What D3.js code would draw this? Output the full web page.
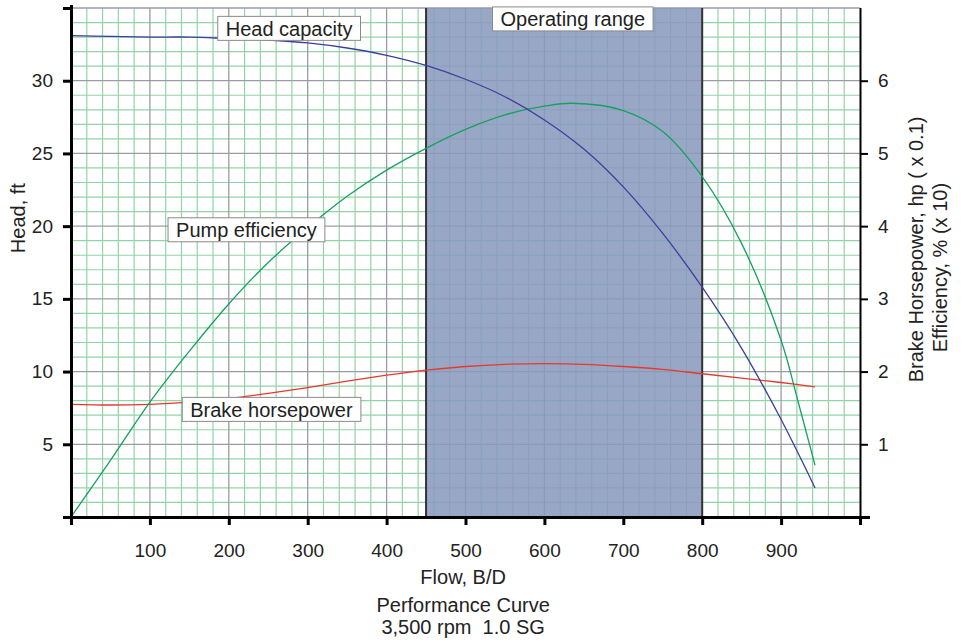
<!DOCTYPE html>
<html>
<head>
<meta charset="utf-8">
<script src="https://cdn.jsdelivr.net/npm/d3@7"></script>
<style>
  body { margin: 0; background: #fff; }
  svg text { font-family: "Liberation Sans", Arial, sans-serif; fill: #222; }
</style>
</head>
<body>
<div id="chart"></div>
<script>
// Pump performance curve, 3,500 rpm 1.0 SG

// flow, B/D
const flow = [0, 50, 100, 150, 200, 250, 300, 350, 400, 450, 500, 550, 600, 650, 700, 750, 800, 850, 900, 943];
// head, ft (left axis)
const head = [33.1, 33.05, 33.0, 33.0, 32.9, 32.8, 32.6, 32.25, 31.75, 31.05, 30.1, 28.9, 27.3, 25.3, 22.7, 19.5, 15.8, 11.6, 6.7, 2.0];
// efficiency, % x 10 (right axis)
const effFlow = [0, 50, 100, 150, 200, 250, 300, 350, 400, 450, 500, 550, 600, 635, 700, 750, 800, 850, 900, 920, 943];
const efficiency = [0, 0.78, 1.58, 2.28, 2.93, 3.5, 3.98, 4.41, 4.77, 5.07, 5.33, 5.53, 5.65, 5.69, 5.59, 5.3, 4.68, 3.76, 2.43, 1.65, 0.71];
// brake horsepower, hp x 0.1 (right axis)
const bhp = [1.55, 1.54, 1.55, 1.58, 1.63, 1.70, 1.78, 1.87, 1.95, 2.02, 2.07, 2.10, 2.11, 2.10, 2.07, 2.03, 1.97, 1.91, 1.85, 1.79];

const operatingRange = [450, 800];

const xTicks = [0, 100, 200, 300, 400, 500, 600, 700, 800, 900, 1000];
const leftTicks = [0, 5, 10, 15, 20, 25, 30, 35];
const rightTicks = [1, 2, 3, 4, 5, 6];

// annotation boxes: text, flow at box left (or centre), left-axis value at box centre
const labels = [
  { text: 'Head capacity', flow: 186, value: 33.6, anchor: 'start' },
  { text: 'Operating range', flow: 636, value: 34.25, anchor: 'middle' },
  { text: 'Pump efficiency', flow: 123, value: 19.75, anchor: 'start' },
  { text: 'Brake horsepower', flow: 141, value: 7.4, anchor: 'start' }
];

const W = 961, H = 641;
const m = { left: 71, right: 101, top: 8, bottom: 124 };
const FS = '20px';

const svg = d3.select('#chart').append('svg')
  .attr('width', W).attr('height', H);

const x = d3.scaleLinear().domain([0, 1000]).range([m.left, W - m.right]);
const yL = d3.scaleLinear().domain([0, 35]).range([H - m.bottom, m.top]);
const yR = d3.scaleLinear().domain([0, 7]).range([H - m.bottom, m.top]);

// grid: minor green every 20 B/D and 1 ft, major grey every 100 B/D and 5 ft
const grid = svg.append('g');
grid.selectAll('line.vmin')
  .data(d3.range(0, 1001, 20).filter(d => d % 100 !== 0))
  .join('line')
  .attr('x1', d => x(d)).attr('x2', d => x(d))
  .attr('y1', yL(35)).attr('y2', yL(0))
  .attr('stroke', '#92d4a8').attr('stroke-width', 1.2);
grid.selectAll('line.hmin')
  .data(d3.range(0, 36, 1).filter(d => d % 5 !== 0))
  .join('line')
  .attr('x1', x(0)).attr('x2', x(1000))
  .attr('y1', d => yL(d)).attr('y2', d => yL(d))
  .attr('stroke', '#92d4a8').attr('stroke-width', 1.2);
grid.selectAll('line.vmaj')
  .data(d3.range(100, 1000, 100))
  .join('line')
  .attr('x1', d => x(d)).attr('x2', d => x(d))
  .attr('y1', yL(35)).attr('y2', yL(0))
  .attr('stroke', '#9b9ba7').attr('stroke-width', 1.3);
grid.selectAll('line.hmaj')
  .data(d3.range(5, 36, 5))
  .join('line')
  .attr('x1', x(0)).attr('x2', x(1000))
  .attr('y1', d => yL(d)).attr('y2', d => yL(d))
  .attr('stroke', '#9b9ba7').attr('stroke-width', 1.3);

// operating range shading
svg.append('rect')
  .attr('x', x(operatingRange[0]))
  .attr('y', yL(35))
  .attr('width', x(operatingRange[1]) - x(operatingRange[0]))
  .attr('height', yL(0) - yL(35))
  .attr('fill', '#8798bd')
  .attr('opacity', 0.85);
svg.selectAll('line.range')
  .data(operatingRange)
  .join('line')
  .attr('x1', d => x(d)).attr('x2', d => x(d))
  .attr('y1', yL(35)).attr('y2', yL(0))
  .attr('stroke', '#333').attr('stroke-width', 2);

// curves
const smooth = d3.curveCatmullRom;
const headLine = d3.line().x((d, i) => x(flow[i])).y(d => yL(d)).curve(smooth);
const effLine = d3.line().x((d, i) => x(effFlow[i])).y(d => yR(d)).curve(smooth);
const bhpLine = d3.line().x((d, i) => x(flow[i])).y(d => yR(d)).curve(smooth);

svg.append('path').attr('d', bhpLine(bhp))
  .attr('fill', 'none').attr('stroke', '#e8382e').attr('stroke-width', 1.3);
svg.append('path').attr('d', effLine(efficiency))
  .attr('fill', 'none').attr('stroke', '#17a060').attr('stroke-width', 1.3);
svg.append('path').attr('d', headLine(head))
  .attr('fill', 'none').attr('stroke', '#3c3f9c').attr('stroke-width', 1.3);

// axes
const axB = svg.append('g')
  .attr('transform', `translate(0,${yL(0)})`)
  .call(d3.axisBottom(x).tickValues(xTicks)
    .tickFormat(d => (d === 0 || d === 1000) ? '' : d)
    .tickSize(8).tickSizeOuter(0).tickPadding(19));
axB.select('.domain').attr('stroke-width', 3).attr('d', `M${x(0) - 8},0.5H${x(1000) + 10}`);
axB.selectAll('.tick line').attr('stroke-width', 3);

const axL = svg.append('g')
  .attr('transform', `translate(${x(0)},0)`)
  .call(d3.axisLeft(yL).tickValues(leftTicks)
    .tickFormat(d => (d === 0 || d === 35) ? '' : d)
    .tickSize(8).tickSizeOuter(0).tickPadding(10));
axL.select('.domain').attr('stroke-width', 3).attr('d', `M0.5,${yL(35) - 3}V${yL(0)}`);
axL.selectAll('.tick line').attr('stroke-width', 3);

const axR = svg.append('g')
  .attr('transform', `translate(${x(1000)},0)`)
  .call(d3.axisRight(yR).tickValues(rightTicks)
    .tickFormat(d3.format('d'))
    .tickSize(8).tickSizeOuter(0).tickPadding(10));
axR.select('.domain').attr('stroke-width', 2).attr('d', `M0.5,${yR(7)}V${yR(0) + 8}`);
axR.selectAll('.tick line').attr('stroke-width', 2);

svg.selectAll('.tick text').style('font-size', '19px').attr('fill', '#222');

// annotation boxes
labels.forEach(l => {
  const g = svg.append('g');
  const t = g.append('text')
    .attr('x', x(l.flow) + (l.anchor === 'start' ? 8 : 0))
    .attr('y', yL(l.value))
    .attr('dy', '0.36em')
    .attr('text-anchor', l.anchor)
    .style('font-size', FS)
    .text(l.text);
  const b = t.node().getBBox();
  g.insert('rect', 'text')
    .attr('x', b.x - 8).attr('y', yL(l.value) - 12)
    .attr('width', b.width + 16).attr('height', 24)
    .attr('fill', '#fff').attr('stroke', '#8a8a8a').attr('stroke-width', 1);
});

// axis titles
svg.append('text')
  .attr('transform', `translate(18,${yL(20.55)}) rotate(-90)`)
  .attr('dy', '0.35em')
  .attr('text-anchor', 'middle').style('font-size', FS)
  .text('Head, ft');
svg.append('text')
  .attr('transform', `translate(916,${yR(3.68)}) rotate(-90)`)
  .attr('dy', '0.35em')
  .attr('text-anchor', 'middle').style('font-size', FS)
  .text('Brake Horsepower, hp ( x 0.1)');
svg.append('text')
  .attr('transform', `translate(940,${yR(3.43)}) rotate(-90)`)
  .attr('dy', '0.35em')
  .attr('text-anchor', 'middle').style('font-size', FS)
  .text('Efficiency, % (x 10)');

const cx = x(497);
svg.append('text').attr('x', cx).attr('y', 584)
  .attr('text-anchor', 'middle').style('font-size', FS).text('Flow, B/D');
svg.append('text').attr('x', cx).attr('y', 612)
  .attr('text-anchor', 'middle').style('font-size', FS).text('Performance Curve');
svg.append('text').attr('x', cx).attr('y', 634)
  .attr('text-anchor', 'middle').style('font-size', FS)
  .style('white-space', 'pre').text('3,500 rpm  1.0 SG');
</script>
</body>
</html>
